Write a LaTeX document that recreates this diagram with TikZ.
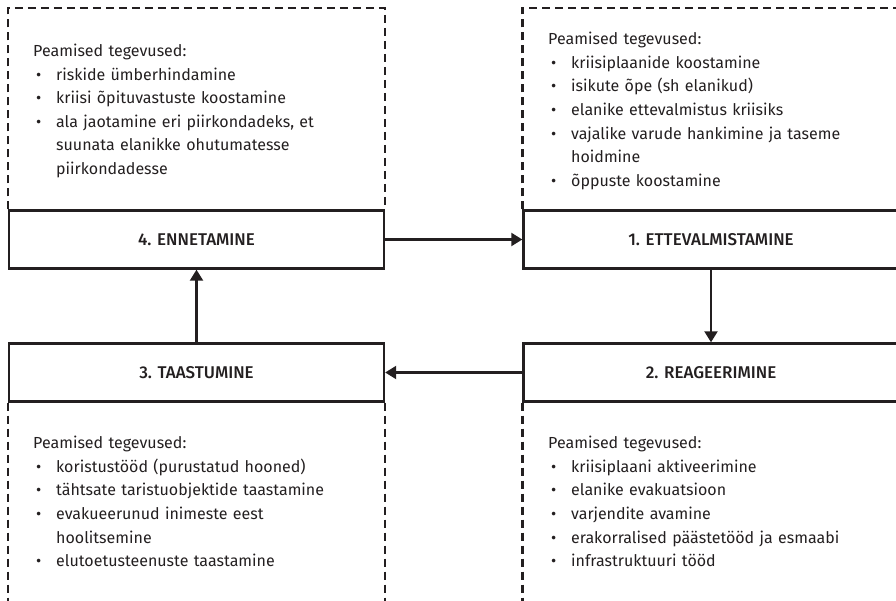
\documentclass[tikz,border=0pt]{standalone}
\usepackage{fontspec}
\setmainfont{Fira Sans}
\newfontfamily\titlefont{Fira Sans Medium}
\usetikzlibrary{arrows.meta}
\definecolor{ink}{HTML}{231F20}
\newcommand{\bul}[1]{\par\noindent\hangindent=23pt\hangafter=1\makebox[23pt][l]{\hspace{3pt}•}#1\par}

\begin{document}
\begin{tikzpicture}[x=1pt, y=-1pt,
  phasebox/.style={draw=ink, line width=2.4pt, minimum width=375pt, minimum height=58pt,
    inner sep=0pt, text=ink, font=\titlefont\fontsize{17}{20}\selectfont},
  actlist/.style={text width=330pt, inner sep=0pt, align=left, text=ink,
    font=\fontsize{16}{23.6}\selectfont},
  dashframe/.style={draw=ink, line width=2.4pt, dash pattern=on 8pt off 5pt},
  flow/.style={draw=ink, line width=2.2pt, -{Triangle[length=11pt,width=13pt]}}]
  \useasboundingbox (0,0) rectangle (896,601);

  % phase boxes
  \node[phasebox] (ennet) at (196.5,239.5) {4. ENNETAMINE};
  \node[phasebox] (ettev) at (711,239.5) {1. ETTEVALMISTAMINE};
  \node[phasebox] (reag)  at (711,372.5) {2. REAGEERIMINE};
  \node[phasebox] (taast) at (196.5,372.5) {3. TAASTUMINE};

  % dashed frames
  \draw[dashframe] (ennet.north west) -- ++(0,-201) -| (ennet.north east);
  \draw[dashframe] (ettev.north west) -- ++(0,-201) -| (ettev.north east);
  \draw[dashframe] (taast.south west) -- ++(0,205);
  \draw[dashframe] (taast.south east) -- ++(0,205);
  \draw[dashframe] (reag.south west) -- ++(0,205);

  % activities
  \node[actlist, anchor=west] (ennetlist) at (33,111) {Peamised tegevused:
    \bul{riskide ümberhindamine}
    \bul{kriisi õpituvastuste koostamine}
    \bul{ala jaotamine eri piirkondadeks, et\newline suunata elanikke ohutumatesse\newline piirkondadesse}};
  \node[actlist, anchor=west] (ettevlist) at (548,111) {Peamised tegevused:
    \bul{kriisiplaanide koostamine}
    \bul{isikute õpe (sh elanikud)}
    \bul{elanike ettevalmistus kriisiks}
    \bul{vajalike varude hankimine ja taseme\newline hoidmine}
    \bul{õppuste koostamine}};
  \node[actlist, anchor=north west] (taastlist) at (33,436) {Peamised tegevused:
    \bul{koristustööd (purustatud hooned)}
    \bul{tähtsate taristuobjektide taastamine}
    \bul{evakueerunud inimeste eest\newline hoolitsemine}
    \bul{elutoetusteenuste taastamine}};
  \node[actlist, anchor=north west] (reaglist) at (548,436) {Peamised tegevused:
    \bul{kriisiplaani aktiveerimine}
    \bul{elanike evakuatsioon}
    \bul{varjendite avamine}
    \bul{erakorralised päästetööd ja esmaabi}
    \bul{infrastruktuuri tööd}};

  % cycle
  \draw[flow] (ennet) -- (ettev);
  \draw[flow] (ettev) -- (reag);
  \draw[flow] (reag) -- (taast);
  \draw[flow] (taast) -- (ennet);
\end{tikzpicture}
\end{document}
